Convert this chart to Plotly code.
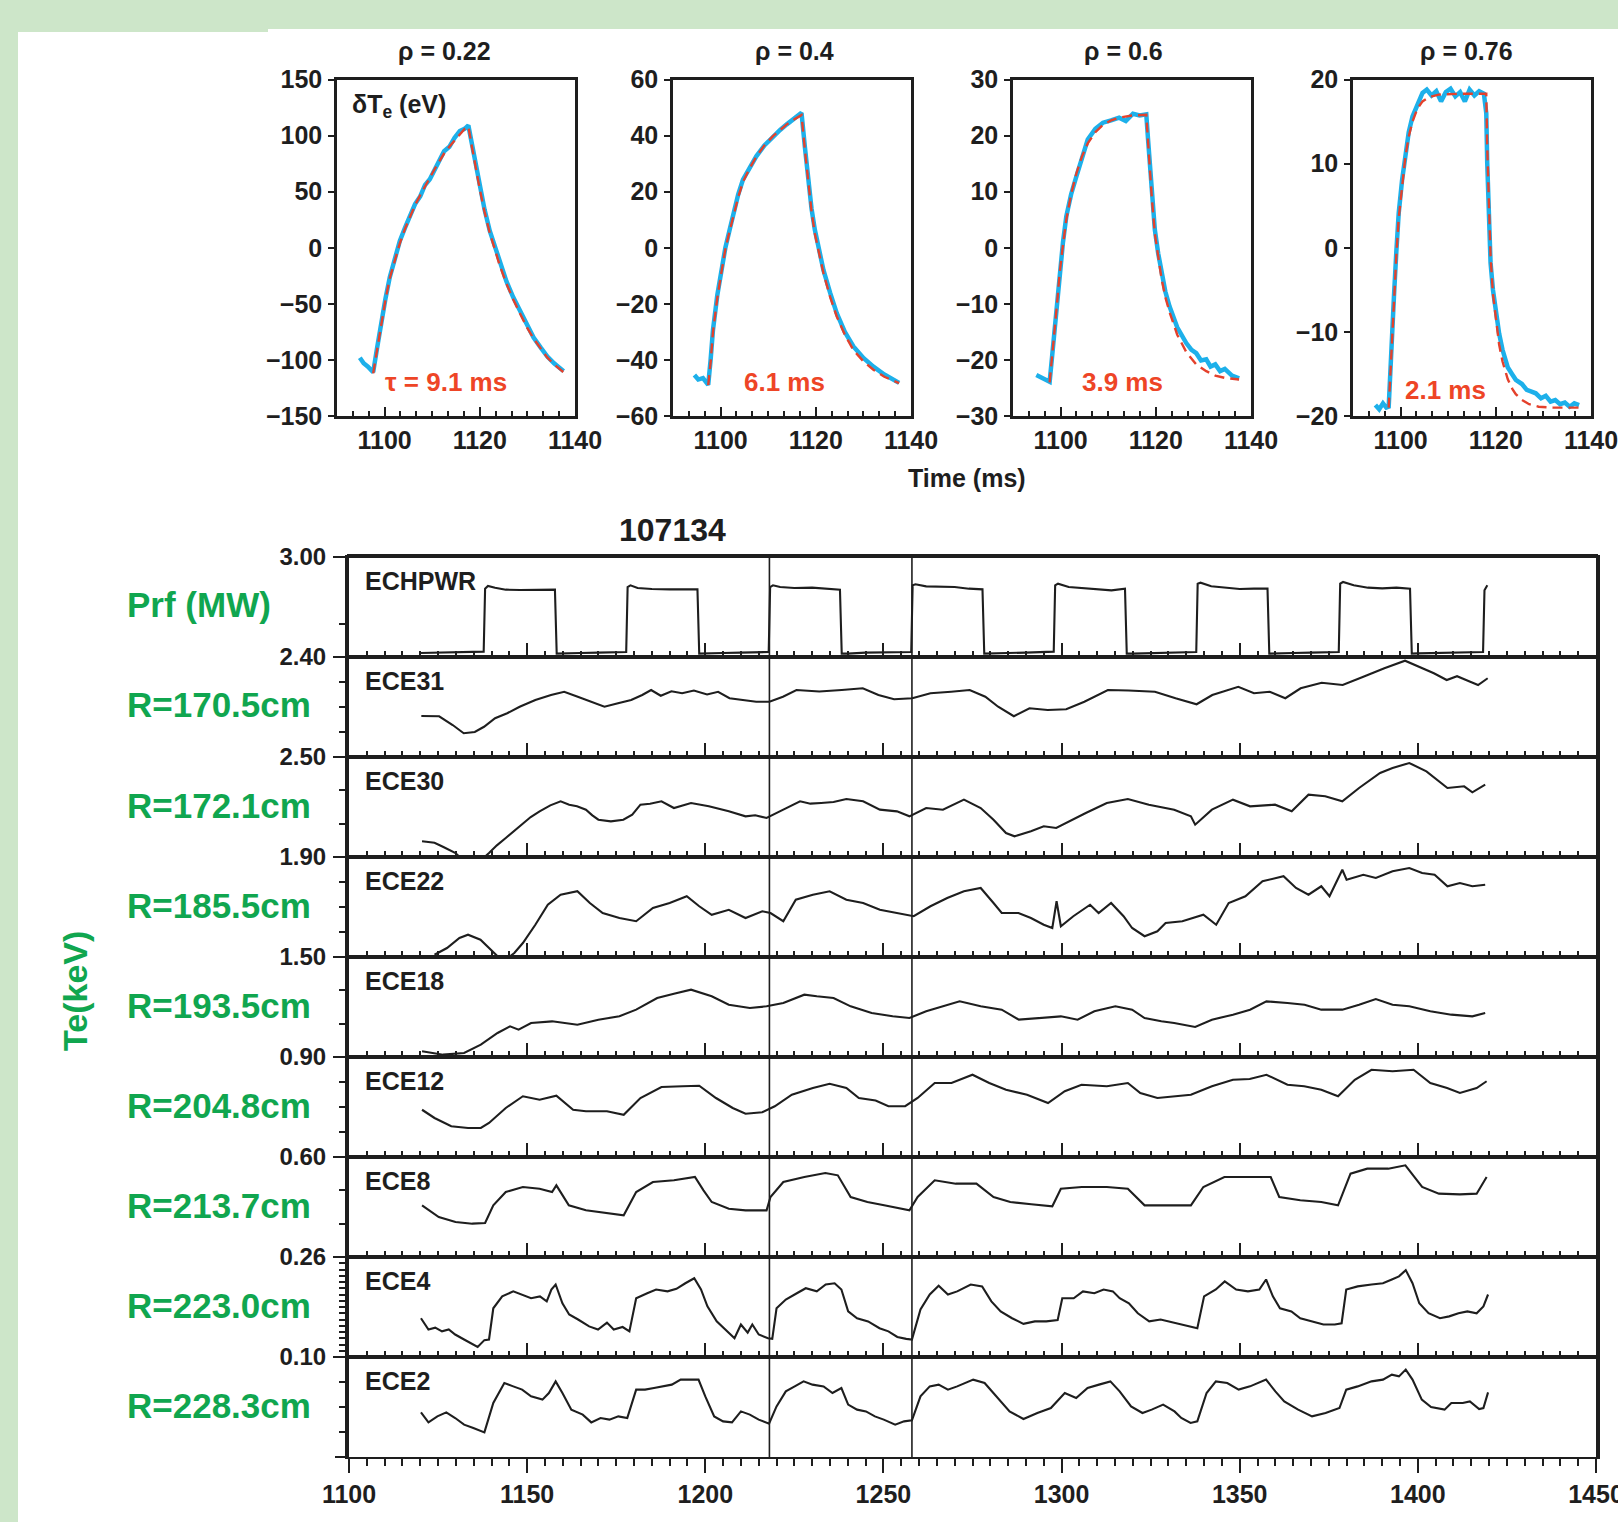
import plotly.graph_objects as go

W, H = 1618, 1522

# ---------------- small panels: delta Te (eV) vs time (ms) ----------------
rho_titles = ["ρ = 0.22", "ρ = 0.4", "ρ = 0.6", "ρ = 0.76"]
tau_labels = ["τ = 9.1 ms", "6.1 ms", "3.9 ms", "2.1 ms"]
small_yranges = [[-150, 150], [-60, 60], [-30, 30], [-20, 20]]
small_ytick_step = [50, 20, 10, 10]
small_xticks = [1100, 1120, 1140]

meas_1 = [(1094.8, -98), (1095.6, -103), (1096.5, -106), (1097.6, -111), (1098.4, -90), (1099.3, -66),
          (1100.2, -45), (1101.1, -26), (1102.1, -10), (1103.2, 6), (1104.3, 18), (1105.4, 29), (1106.4, 39),
          (1107.5, 46), (1108.5, 56), (1109.5, 61), (1110.5, 70), (1111.5, 77), (1112.5, 86), (1113.6, 90),
          (1114.7, 98), (1115.8, 104), (1116.8, 106), (1117.6, 109), (1118.3, 93), (1119.1, 73), (1120.0, 54),
          (1121.0, 34), (1122.1, 15), (1123.2, 0), (1124.2, -14), (1125.6, -30), (1127.0, -44), (1128.5, -57),
          (1129.9, -69), (1131.3, -80), (1132.8, -89), (1134.2, -97), (1135.6, -103), (1137.0, -108), (1137.6, -110)]
fit_1 = [(1097.6, -112), (1098.4, -91), (1099.3, -67), (1100.2, -46), (1101.1, -27), (1102.1, -11), (1103.2, 4),
         (1104.3, 17), (1105.4, 28), (1106.4, 38), (1107.5, 47), (1108.5, 55), (1109.5, 63), (1110.5, 70),
         (1111.5, 77), (1112.5, 84), (1113.6, 90), (1114.7, 96), (1115.8, 101), (1116.8, 106), (1117.6, 108),
         (1118.3, 91), (1119.1, 71), (1120.0, 52), (1121.0, 32), (1122.1, 13), (1123.2, -2), (1124.2, -16),
         (1125.6, -32), (1127.0, -46), (1128.5, -59), (1129.9, -71), (1131.3, -81), (1132.8, -90), (1134.2, -98),
         (1135.6, -104), (1137.0, -109), (1137.6, -111)]
meas_2 = [(1094.5, -45.4), (1095.3, -47), (1096.3, -46.5), (1097.4, -48.9), (1097.9, -40), (1098.4, -29.3),
          (1099.3, -17), (1100.2, -7.9), (1101.0, 0), (1101.9, 6.4), (1102.8, 13), (1103.7, 19), (1104.7, 24.3),
          (1106.0, 28.5), (1107.5, 32.6), (1109.2, 36.5), (1111.0, 39.8), (1112.5, 42), (1113.9, 44),
          (1115.5, 46), (1117.0, 48.1), (1117.7, 36), (1118.4, 24.3), (1119.1, 14), (1119.8, 6.4), (1120.7, -1),
          (1121.6, -7.9), (1123.0, -16), (1124.4, -23.3), (1126.1, -30), (1127.9, -35.2), (1130.0, -39.3),
          (1132.1, -42.4), (1134.4, -45.2), (1136.8, -47.7), (1137.5, -48.2)]
fit_2 = [(1097.4, -49), (1097.9, -41), (1098.4, -30), (1099.3, -18), (1100.2, -8.5), (1101.0, -0.5),
         (1101.9, 6), (1102.8, 12.5), (1103.7, 18), (1104.7, 23.5), (1106.0, 28), (1107.5, 32.5), (1109.2, 36.5),
         (1111.0, 39.8), (1112.5, 42), (1113.9, 44), (1115.5, 45.8), (1117.0, 47.3), (1117.7, 35), (1118.4, 23),
         (1119.1, 13), (1119.8, 5), (1120.7, -2.5), (1121.6, -9), (1123.0, -17.5), (1124.4, -24.5),
         (1126.1, -31), (1127.9, -36.5), (1130.0, -40.5), (1132.1, -43.5), (1134.4, -46), (1136.8, -47.8),
         (1137.5, -48.3)]
meas_3 = [(1094.9, -22.7), (1096.0, -23.2), (1097.0, -23.6), (1097.7, -23.9), (1098.2, -19.5), (1098.7, -14.6),
          (1099.3, -9), (1099.8, -3.9), (1100.5, 1), (1101.2, 5.6), (1102.2, 9.5), (1103.3, 12.7), (1104.5, 16.3),
          (1105.7, 19.3), (1107.3, 21.2), (1108.9, 22.3), (1110.6, 22.7), (1112.3, 23.2), (1113.7, 22.6),
          (1115.2, 23.9), (1116.6, 23.6), (1118.0, 23.8), (1118.4, 19), (1118.7, 15.1), (1119.2, 9),
          (1119.8, 3.2), (1120.5, -1), (1121.2, -4.5), (1122.0, -7.8), (1122.9, -10.5), (1124.5, -14.2),
          (1126.4, -17), (1127.5, -18.2), (1128.5, -18.8), (1129.5, -20.1), (1130.6, -19.9), (1131.5, -21.2),
          (1132.5, -20.8), (1133.5, -22.0), (1134.5, -21.6), (1136.0, -22.8), (1137.5, -23.3)]
fit_3 = [(1097.7, -24), (1098.2, -20), (1098.7, -15), (1099.3, -9.5), (1099.8, -4.5), (1100.5, 0.5),
         (1101.2, 5), (1102.2, 9.5), (1103.3, 13.2), (1104.5, 16.3), (1105.7, 18.6), (1107.3, 20.6),
         (1108.9, 21.9), (1110.6, 22.7), (1112.3, 23.2), (1115.2, 23.6), (1118.0, 23.7), (1118.4, 18.5),
         (1118.7, 14.5), (1119.2, 8.5), (1119.8, 2.5), (1120.5, -2), (1121.2, -5.5), (1122.0, -8.8),
         (1122.9, -11.5), (1124.5, -15.5), (1126.4, -18.6), (1128.5, -20.8), (1130.6, -22.0), (1132.5, -22.8),
         (1134.5, -23.2), (1137.5, -23.5)]
meas_4 = [(1094.7, -18.7), (1095.5, -19.2), (1096.3, -18.5), (1097.0, -19.0), (1097.5, -18.9), (1098.0, -12),
          (1098.6, -5.8), (1099.1, -0.5), (1099.6, 4.1), (1100.3, 8), (1101.0, 11.3), (1101.7, 13.7),
          (1102.5, 15.6), (1103.5, 17), (1104.6, 18.4), (1105.5, 18.8), (1106.5, 18.1), (1107.5, 18.6),
          (1108.5, 17.4), (1109.5, 18.5), (1110.5, 18.9), (1111.5, 18.0), (1112.5, 18.5), (1113.5, 17.4),
          (1114.5, 18.8), (1115.5, 18.1), (1116.5, 18.6), (1117.5, 18.3), (1118.0, 16), (1118.2, 10.1),
          (1118.5, 4), (1118.9, -1.8), (1119.4, -5), (1120.0, -7.8), (1120.7, -10.2), (1121.4, -12.1),
          (1122.5, -14.2), (1123.5, -15.1), (1124.2, -15.7), (1125.5, -16.2), (1126.5, -16.9), (1127.5, -17.1),
          (1128.4, -17.3), (1129.5, -17.9), (1130.5, -17.6), (1131.5, -18.3), (1132.5, -18.1), (1133.5, -18.6),
          (1134.5, -18.4), (1135.5, -18.9), (1136.5, -18.5), (1137.5, -18.7)]
fit_4 = [(1097.5, -19), (1098.0, -13), (1098.6, -6), (1099.1, -1), (1099.6, 3.5), (1100.3, 7.5), (1101.0, 10.8),
         (1101.7, 13.2), (1102.5, 15), (1103.5, 16.5), (1104.6, 17.4), (1106.0, 17.9), (1108.0, 18.2),
         (1112.0, 18.3), (1118.0, 18.3), (1118.2, 12), (1118.5, 5), (1118.9, -1), (1119.4, -5.5), (1120.0, -8.5),
         (1120.7, -11.5), (1121.4, -13.5), (1122.5, -15.6), (1123.5, -16.8), (1124.2, -17.4), (1125.5, -18.1),
         (1127.0, -18.6), (1129.0, -18.9), (1132.0, -19.0), (1137.5, -19.0)]

measured = [meas_1, meas_2, meas_3, meas_4]
fits = [fit_1, fit_2, fit_3, fit_4]

# ---------------- stacked ECE panels (shot 107134) ----------------
shot = "107134"
channel_names = ["ECHPWR", "ECE31", "ECE30", "ECE22", "ECE18", "ECE12", "ECE8", "ECE4", "ECE2"]
radius_labels = ["Prf (MW)", "R=170.5cm", "R=172.1cm", "R=185.5cm", "R=193.5cm",
                 "R=204.8cm", "R=213.7cm", "R=223.0cm", "R=228.3cm"]
top_labels = ["3.00", "2.40", "2.50", "1.90", "1.50", "0.90", "0.60", "0.26", "0.10"]
panel_ranges = [[0, 3.0], [2.0, 2.4], [1.9, 2.5], [1.5, 1.9], [0.9, 1.5], [0.5, 0.9], [0.3, 0.6], [0.10, 0.26], [0.02, 0.10]]
panel_minor = [[1.0], [2.1, 2.2, 2.3], [2.1, 2.3], [1.6, 1.7, 1.8], [1.1, 1.3], [0.6, 0.7, 0.8], [0.4, 0.5],
               [0.11, 0.12, 0.13, 0.14, 0.15, 0.16, 0.17, 0.18, 0.19, 0.20, 0.21, 0.22, 0.23, 0.24, 0.25],
               [0.04, 0.06, 0.08]]
switch_times = [1218, 1258]

echpwr = [(1120, 0.12), (1125, 0.13), (1130, 0.14), (1135, 0.15), (1137.8, 0.16), (1138.2, 2.05), (1139, 2.13),
          (1141, 2.08), (1144, 2.02), (1148, 2.01), (1152, 2.02), (1156, 2.03), (1157.8, 2.02), (1158.3, 0.1),
          (1160, 0.1), (1165, 0.12), (1170, 0.13), (1175, 0.14), (1177.8, 0.15), (1178.2, 2.1), (1179, 2.15),
          (1181, 2.07), (1185, 2.04), (1190, 2.03), (1195, 2.04), (1197.8, 2.03), (1198.3, 0.1), (1200, 0.1),
          (1205, 0.12), (1210, 0.13), (1215, 0.14), (1217.8, 0.15), (1218.2, 2.1), (1219, 2.15), (1221, 2.1),
          (1225, 2.07), (1230, 2.08), (1235, 2.03), (1237.8, 2.02), (1238.3, 0.1), (1240, 0.1), (1245, 0.13),
          (1250, 0.14), (1255, 0.15), (1257.8, 0.15), (1258.2, 2.15), (1259, 2.18), (1262, 2.12), (1266, 2.1),
          (1270, 2.1), (1274, 2.05), (1277.8, 2.03), (1278.3, 0.1), (1280, 0.1), (1285, 0.12), (1290, 0.13),
          (1295, 0.14), (1297.8, 0.16), (1298.2, 2.15), (1299, 2.2), (1302, 2.1), (1306, 2.06), (1310, 2.02),
          (1314, 2.0), (1317.8, 2.05), (1318.3, 0.1), (1320, 0.1), (1325, 0.12), (1330, 0.13), (1335, 0.14),
          (1337.8, 0.15), (1338.2, 2.2), (1339, 2.23), (1342, 2.12), (1346, 2.08), (1350, 2.04), (1354, 2.05),
          (1357.8, 2.05), (1358.3, 0.1), (1360, 0.1), (1365, 0.12), (1370, 0.13), (1375, 0.14), (1377.8, 0.15),
          (1378.2, 2.2), (1379, 2.25), (1382, 2.15), (1386, 2.08), (1390, 2.06), (1394, 2.08), (1397.8, 2.05),
          (1398.3, 0.1), (1400, 0.11), (1405, 0.12), (1410, 0.13), (1415, 0.14), (1418.3, 0.15), (1418.7, 2.0),
          (1419.5, 2.15)]
ece31 = [(1120.3, 2.164), (1125.3, 2.163), (1129.1, 2.128), (1132.2, 2.095), (1135.3, 2.100), (1137.9, 2.121),
         (1141.0, 2.155), (1144.4, 2.175), (1147.9, 2.201), (1152.3, 2.228), (1156.7, 2.248), (1160.4, 2.261),
         (1164.2, 2.241), (1168.0, 2.221), (1171.7, 2.201), (1175.5, 2.215), (1179.2, 2.228), (1182.3, 2.248),
         (1184.8, 2.268), (1187.5, 2.245), (1190.5, 2.263), (1193.5, 2.255), (1196.8, 2.266), (1200.5, 2.250),
         (1203.6, 2.261), (1206.8, 2.235), (1210.5, 2.228), (1214.3, 2.221), (1218.0, 2.221), (1221.8, 2.241),
         (1225.6, 2.268), (1232.0, 2.262), (1238.3, 2.268), (1244.2, 2.275), (1248.6, 2.248), (1253.0, 2.231),
         (1258.1, 2.235), (1263.2, 2.255), (1269.0, 2.261), (1274.2, 2.268), (1278.6, 2.241), (1282.2, 2.201),
         (1286.6, 2.163), (1291.0, 2.195), (1296.1, 2.188), (1301.3, 2.191), (1306.4, 2.221), (1313.0, 2.268),
         (1318.8, 2.266), (1326.2, 2.261), (1332.0, 2.235), (1337.9, 2.211), (1342.3, 2.248), (1349.6, 2.281),
         (1354.0, 2.255), (1358.4, 2.261), (1362.8, 2.235), (1367.1, 2.275), (1373.0, 2.297), (1378.9, 2.288),
         (1384.7, 2.321), (1390.6, 2.355), (1396.4, 2.385), (1400.1, 2.361), (1404.5, 2.335), (1408.1, 2.308),
         (1411.0, 2.323), (1414.7, 2.301), (1416.9, 2.288), (1419.6, 2.315)]
ece30 = [(1120.5, 1.994), (1124.0, 1.985), (1126.5, 1.960), (1129.9, 1.924), (1132.0, 1.88), (1136.0, 1.86),
         (1139.3, 1.924), (1141.5, 1.97), (1144.0, 2.014), (1146.5, 2.06), (1148.8, 2.104), (1151.0, 2.14),
         (1153.5, 2.174), (1156.5, 2.21), (1159.4, 2.234), (1161.8, 2.214), (1164.0, 2.204), (1166.5, 2.184),
         (1168.3, 2.15), (1170.0, 2.124), (1173.5, 2.114), (1177.0, 2.124), (1179.5, 2.154), (1181.8, 2.214),
         (1184.5, 2.22), (1187.7, 2.234), (1191.2, 2.194), (1193.5, 2.21), (1196.0, 2.224), (1201.0, 2.204),
         (1206.6, 2.174), (1211.3, 2.144), (1214.0, 2.15), (1217.2, 2.134), (1219.5, 2.16), (1221.9, 2.184),
         (1226.6, 2.234), (1229.5, 2.22), (1232.5, 2.224), (1236.0, 2.23), (1239.6, 2.248), (1244.3, 2.234),
         (1249.0, 2.184), (1253.8, 2.174), (1257.3, 2.144), (1262.0, 2.194), (1266.7, 2.184), (1272.6, 2.244),
         (1277.3, 2.194), (1280.9, 2.124), (1284.4, 2.044), (1286.8, 2.024), (1291.4, 2.054), (1295.0, 2.084),
         (1298.5, 2.074), (1302.1, 2.114), (1306.8, 2.164), (1312.7, 2.224), (1318.6, 2.248), (1324.5, 2.214),
         (1331.6, 2.184), (1336.3, 2.144), (1337.5, 2.094), (1342.2, 2.184), (1348.1, 2.244), (1352.9, 2.204),
         (1359.9, 2.214), (1364.6, 2.174), (1369.3, 2.274), (1374.0, 2.264), (1378.8, 2.234), (1383.5, 2.314),
         (1389.4, 2.404), (1392.9, 2.434), (1397.6, 2.464), (1402.4, 2.414), (1405.9, 2.354), (1408.3, 2.314),
         (1413.0, 2.324), (1415.3, 2.288), (1418.9, 2.334)]
ece22 = [(1124.0, 1.509), (1127.5, 1.536), (1131.0, 1.576), (1133.4, 1.589), (1136.9, 1.569), (1139.3, 1.536),
         (1141.7, 1.503), (1144.0, 1.49), (1146.4, 1.516), (1148.8, 1.556), (1152.3, 1.629), (1155.8, 1.709),
         (1159.4, 1.749), (1164.1, 1.763), (1167.6, 1.716), (1171.2, 1.676), (1175.9, 1.656), (1180.6, 1.643),
         (1185.3, 1.696), (1190.0, 1.716), (1194.8, 1.743), (1198.3, 1.703), (1201.8, 1.669), (1206.6, 1.689),
         (1211.3, 1.656), (1216.0, 1.683), (1218.3, 1.676), (1221.9, 1.643), (1225.4, 1.729), (1230.2, 1.749),
         (1234.9, 1.763), (1239.6, 1.729), (1244.3, 1.716), (1249.0, 1.689), (1253.8, 1.676), (1258.5, 1.663),
         (1263.2, 1.703), (1267.9, 1.736), (1272.6, 1.763), (1277.3, 1.776), (1280.9, 1.716), (1283.2, 1.676),
         (1287.9, 1.676), (1291.4, 1.656), (1295.0, 1.629), (1297.4, 1.616), (1298.6, 1.723), (1299.8, 1.623),
         (1303.3, 1.663), (1308.0, 1.709), (1310.4, 1.676), (1313.9, 1.716), (1317.4, 1.663), (1319.8, 1.616),
         (1323.3, 1.583), (1326.9, 1.603), (1329.2, 1.636), (1333.9, 1.643), (1339.8, 1.669), (1343.4, 1.629),
         (1346.9, 1.716), (1351.6, 1.743), (1356.4, 1.803), (1362.3, 1.823), (1365.8, 1.776), (1369.3, 1.749),
         (1372.9, 1.783), (1375.2, 1.743), (1378.8, 1.849), (1380.0, 1.809), (1384.7, 1.829), (1388.2, 1.816),
         (1392.9, 1.843), (1397.6, 1.856), (1401.2, 1.836), (1404.7, 1.829), (1408.3, 1.783), (1411.8, 1.796),
         (1415.3, 1.783), (1418.9, 1.789)]
ece18 = [(1120.5, 0.934), (1126.4, 0.914), (1132.3, 0.924), (1137.0, 0.974), (1141.7, 1.044), (1145.2, 1.084),
         (1147.6, 1.064), (1151.1, 1.104), (1157.0, 1.114), (1164.1, 1.094), (1170.0, 1.124), (1175.9, 1.144),
         (1180.6, 1.184), (1186.5, 1.254), (1191.2, 1.280), (1196.0, 1.304), (1201.8, 1.264), (1206.6, 1.214),
         (1212.5, 1.194), (1217.2, 1.204), (1221.9, 1.224), (1227.8, 1.274), (1231.3, 1.264), (1236.0, 1.254),
         (1240.8, 1.204), (1246.7, 1.164), (1252.6, 1.144), (1257.3, 1.134), (1262.0, 1.174), (1266.7, 1.204),
         (1271.4, 1.234), (1277.3, 1.204), (1283.2, 1.184), (1288.0, 1.124), (1293.9, 1.134), (1299.8, 1.144),
         (1304.5, 1.124), (1309.2, 1.174), (1315.1, 1.204), (1319.8, 1.184), (1323.3, 1.134), (1328.0, 1.114),
         (1331.6, 1.104), (1337.5, 1.080), (1342.2, 1.124), (1348.1, 1.154), (1352.9, 1.184), (1357.5, 1.234),
         (1363.4, 1.224), (1368.2, 1.214), (1372.9, 1.184), (1378.8, 1.184), (1383.5, 1.214), (1388.2, 1.248),
         (1392.9, 1.214), (1397.6, 1.204), (1403.5, 1.174), (1409.4, 1.154), (1415.3, 1.144), (1418.9, 1.164)]
ece12 = [(1120.5, 0.689), (1124.0, 0.656), (1128.7, 0.623), (1133.4, 0.616), (1137.0, 0.616), (1139.3, 0.636),
         (1144.0, 0.696), (1148.8, 0.743), (1153.5, 0.729), (1158.2, 0.745), (1162.9, 0.689), (1166.5, 0.683),
         (1172.4, 0.683), (1177.1, 0.669), (1181.8, 0.736), (1187.7, 0.780), (1193.6, 0.783), (1198.3, 0.785),
         (1203.0, 0.736), (1207.7, 0.696), (1211.3, 0.673), (1216.0, 0.679), (1219.5, 0.703), (1224.3, 0.749),
         (1230.2, 0.776), (1234.9, 0.793), (1239.6, 0.776), (1243.1, 0.736), (1247.8, 0.726), (1251.4, 0.703),
         (1256.1, 0.703), (1259.6, 0.736), (1264.4, 0.796), (1269.1, 0.796), (1275.0, 0.829), (1279.7, 0.796),
         (1284.4, 0.769), (1290.3, 0.749), (1296.2, 0.716), (1300.9, 0.763), (1305.6, 0.789), (1312.7, 0.783),
         (1318.6, 0.796), (1322.1, 0.756), (1326.9, 0.736), (1331.6, 0.743), (1336.3, 0.749), (1342.2, 0.783),
         (1348.1, 0.809), (1352.8, 0.812), (1357.5, 0.829), (1363.4, 0.789), (1368.1, 0.783), (1372.9, 0.769),
         (1377.6, 0.743), (1382.3, 0.809), (1387.0, 0.849), (1392.9, 0.843), (1398.8, 0.849), (1403.5, 0.796),
         (1408.2, 0.776), (1411.8, 0.756), (1416.5, 0.776), (1419.3, 0.803)]
ece8 = [(1120.5, 0.455), (1125.2, 0.420), (1129.9, 0.405), (1134.6, 0.400), (1138.2, 0.402), (1140.5, 0.455),
        (1144.0, 0.495), (1148.8, 0.510), (1153.5, 0.505), (1157.0, 0.495), (1158.2, 0.515), (1161.7, 0.455),
        (1166.5, 0.440), (1172.4, 0.432), (1177.1, 0.425), (1180.6, 0.495), (1185.3, 0.525), (1191.2, 0.530),
        (1197.1, 0.540), (1199.5, 0.500), (1201.8, 0.465), (1206.6, 0.445), (1211.3, 0.440), (1217.2, 0.440),
        (1218.3, 0.480), (1221.9, 0.525), (1227.8, 0.540), (1233.7, 0.552), (1237.2, 0.545), (1240.8, 0.480),
        (1245.5, 0.465), (1250.2, 0.455), (1257.3, 0.440), (1259.6, 0.480), (1264.4, 0.530), (1270.3, 0.520),
        (1276.1, 0.520), (1280.9, 0.480), (1285.6, 0.465), (1291.5, 0.458), (1297.4, 0.452), (1299.8, 0.505),
        (1305.7, 0.510), (1312.7, 0.510), (1318.6, 0.505), (1323.3, 0.455), (1329.2, 0.455), (1336.3, 0.455),
        (1339.8, 0.510), (1345.7, 0.540), (1352.8, 0.540), (1358.7, 0.540), (1361.1, 0.480), (1367.0, 0.470),
        (1372.9, 0.465), (1377.6, 0.455), (1381.1, 0.550), (1385.8, 0.565), (1391.7, 0.565), (1396.5, 0.575),
        (1401.2, 0.510), (1405.9, 0.490), (1411.8, 0.488), (1416.5, 0.490), (1419.3, 0.540)]
ece4 = [(1120.2, 0.162), (1122.3, 0.144), (1124.2, 0.147), (1126.1, 0.141), (1128.0, 0.144), (1129.8, 0.136),
        (1132.3, 0.128), (1134.2, 0.122), (1136.1, 0.116), (1138.0, 0.127), (1139.3, 0.128), (1140.5, 0.178),
        (1143.0, 0.197), (1146.1, 0.205), (1148.6, 0.200), (1151.1, 0.194), (1153.6, 0.197), (1155.5, 0.189),
        (1156.8, 0.208), (1158.0, 0.216), (1159.9, 0.186), (1161.8, 0.168), (1164.3, 0.160), (1167.4, 0.149),
        (1169.9, 0.144), (1172.4, 0.155), (1174.3, 0.144), (1176.8, 0.148), (1178.7, 0.141), (1180.6, 0.194),
        (1183.7, 0.202), (1186.2, 0.208), (1189.4, 0.205), (1191.9, 0.209), (1194.4, 0.218), (1196.9, 0.226),
        (1198.8, 0.208), (1200.6, 0.181), (1203.2, 0.157), (1205.7, 0.144), (1208.2, 0.130), (1210.0, 0.152),
        (1211.9, 0.139), (1213.2, 0.152), (1215.0, 0.136), (1217.6, 0.130), (1218.8, 0.129), (1220.0, 0.178),
        (1222.6, 0.192), (1225.7, 0.202), (1228.2, 0.210), (1231.3, 0.205), (1233.8, 0.216), (1236.3, 0.218),
        (1238.2, 0.208), (1240.1, 0.173), (1242.6, 0.162), (1245.7, 0.157), (1248.9, 0.146), (1251.4, 0.141),
        (1253.9, 0.132), (1256.4, 0.129), (1258.0, 0.128), (1260.4, 0.176), (1263.0, 0.200), (1265.5, 0.214),
        (1268.1, 0.200), (1270.7, 0.205), (1274.5, 0.216), (1277.7, 0.213), (1280.3, 0.189), (1282.9, 0.173),
        (1286.1, 0.162), (1289.3, 0.153), (1292.5, 0.157), (1295.7, 0.157), (1298.9, 0.159), (1300.2, 0.194),
        (1303.4, 0.194), (1306.0, 0.205), (1309.2, 0.202), (1311.8, 0.208), (1314.4, 0.205), (1316.3, 0.194),
        (1318.9, 0.186), (1321.4, 0.170), (1324.6, 0.157), (1327.8, 0.160), (1331.7, 0.155), (1334.9, 0.150),
        (1338.1, 0.146), (1340.0, 0.197), (1343.3, 0.208), (1345.8, 0.221), (1349.0, 0.208), (1352.3, 0.205),
        (1355.5, 0.208), (1357.4, 0.224), (1359.3, 0.197), (1361.3, 0.178), (1364.5, 0.173), (1367.0, 0.162),
        (1370.3, 0.157), (1373.5, 0.152), (1376.7, 0.152), (1378.6, 0.154), (1379.9, 0.208), (1383.1, 0.213),
        (1387.0, 0.216), (1390.2, 0.218), (1392.7, 0.224), (1394.7, 0.229), (1396.6, 0.239), (1398.5, 0.218),
        (1400.4, 0.186), (1403.0, 0.170), (1406.2, 0.162), (1408.8, 0.165), (1411.4, 0.170), (1413.9, 0.173),
        (1416.5, 0.170), (1418.4, 0.181), (1419.7, 0.200)]
ece2 = [(1120.2, 0.0557), (1122.3, 0.0477), (1124.8, 0.0525), (1127.3, 0.0557), (1129.8, 0.0512), (1132.3, 0.0459),
        (1134.9, 0.0432), (1138.0, 0.0397), (1140.5, 0.0632), (1143.6, 0.0792), (1146.1, 0.0765), (1148.6, 0.0739),
        (1151.1, 0.0685), (1154.3, 0.0659), (1156.1, 0.0712), (1158.0, 0.0805), (1159.9, 0.0712), (1162.4, 0.0579),
        (1165.6, 0.0539), (1168.0, 0.0477), (1170.6, 0.0512), (1173.1, 0.0499), (1175.6, 0.0525), (1178.1, 0.0512),
        (1180.6, 0.0739), (1183.1, 0.0739), (1185.6, 0.0752), (1188.1, 0.0765), (1190.6, 0.0779), (1193.1, 0.0819),
        (1195.6, 0.0819), (1198.1, 0.0819), (1200.0, 0.0685), (1202.5, 0.0525), (1205.0, 0.0485), (1207.5, 0.0477),
        (1210.0, 0.0565), (1212.5, 0.0539), (1215.0, 0.0499), (1217.9, 0.0467), (1220.0, 0.0605), (1222.6, 0.0725),
        (1225.1, 0.0765), (1227.6, 0.0805), (1230.1, 0.0779), (1233.2, 0.0765), (1235.7, 0.0712), (1238.2, 0.0752),
        (1240.1, 0.0619), (1242.6, 0.0579), (1245.1, 0.0565), (1247.6, 0.0525), (1250.1, 0.0499), (1253.3, 0.0459),
        (1255.8, 0.0485), (1258.0, 0.0493), (1260.4, 0.0685), (1263.0, 0.0765), (1265.5, 0.0779), (1268.1, 0.0739),
        (1270.7, 0.0765), (1275.2, 0.0819), (1278.4, 0.0792), (1281.6, 0.0685), (1285.4, 0.0565), (1289.3, 0.0504),
        (1293.2, 0.0552), (1297.0, 0.0592), (1300.9, 0.0712), (1304.1, 0.0672), (1307.3, 0.0752), (1310.5, 0.0779),
        (1313.7, 0.0805), (1316.3, 0.0725), (1319.5, 0.0605), (1322.7, 0.0552), (1325.3, 0.0579), (1328.5, 0.0619),
        (1331.7, 0.0565), (1333.6, 0.0512), (1336.2, 0.0472), (1338.1, 0.0485), (1340.7, 0.0712), (1343.3, 0.0805),
        (1346.5, 0.0792), (1349.7, 0.0739), (1352.9, 0.0765), (1357.4, 0.0819), (1360.0, 0.0725), (1362.5, 0.0645),
        (1366.4, 0.0579), (1370.3, 0.0525), (1374.1, 0.0552), (1378.0, 0.0592), (1379.9, 0.0739), (1383.1, 0.0765),
        (1387.0, 0.0805), (1390.2, 0.0819), (1392.7, 0.0859), (1394.7, 0.0845), (1396.6, 0.0899), (1398.5, 0.0819),
        (1401.1, 0.0659), (1403.7, 0.0600), (1407.5, 0.0579), (1409.4, 0.0632), (1412.6, 0.0632), (1414.6, 0.0645),
        (1417.2, 0.0584), (1418.4, 0.0592), (1419.7, 0.0717)]

traces_ece = [echpwr, ece31, ece30, ece22, ece18, ece12, ece8, ece4, ece2]

# ---------------- styling ----------------
FONT = "Liberation Sans, Arial, Helvetica, sans-serif"
INK = "#1e1e1e"
GREEN = "#10A64F"
RED_TXT = "#EE4526"
RED_LINE = "#E4412C"
BLUE = "#1DB0EA"
BG_GREEN = "#CDE6C9"


def fx(p):
    return p / W


def fy(p):
    return 1 - p / H


def tf(size=24, color=INK):
    return dict(family=FONT, size=size, color=color, weight="bold")


fig = go.Figure()
layout = dict(
    template="none",
    width=W, height=H, autosize=False,
    margin=dict(l=0, r=0, t=0, b=0, pad=0, autoexpand=False),
    paper_bgcolor=BG_GREEN, plot_bgcolor="rgba(0,0,0,0)",
    showlegend=False,
    font=dict(family=FONT, size=24, color=INK, weight="bold"),
)

# small panel geometry (pixels)
small_left = [337, 673, 1013, 1353]
small_w = 238
small_top, small_bottom = 79.5, 416
title_cx = [444, 794, 1123, 1466]
tau_x = [383, 742, 1080, 1403]
tau_y = [382, 382, 382, 390]

for i in range(4):
    n = i + 1
    xa, ya = f"x{n}", f"y{n}"
    mt, mv = zip(*measured[i])
    ft, fv = zip(*fits[i])
    fig.add_trace(go.Scatter(x=mt, y=mv, mode="lines", xaxis=xa, yaxis=ya,
                             line=dict(color=BLUE, width=4.5)))
    fig.add_trace(go.Scatter(x=ft, y=fv, mode="lines", xaxis=xa, yaxis=ya,
                             line=dict(color=RED_LINE, width=2.4, dash="10px,6px")))
    lo, hi = small_yranges[i]
    step = small_ytick_step[i]
    yt = list(range(lo, hi + 1, step))
    layout[f"xaxis{n}"] = dict(
        domain=[fx(small_left[i]), fx(small_left[i] + small_w)], anchor=ya, automargin=False,
        range=[1090, 1140], tickmode="array", tickvals=small_xticks,
        ticks="inside", ticklen=9, tickwidth=2, tickcolor=INK,
        minor=dict(ticks="inside", ticklen=5, tickwidth=1.5, tickcolor=INK, tick0=1100, dtick=20 / 6),
        showline=True, mirror=True, linewidth=2.5, linecolor=INK, ticklabeloverflow="allow",
        showgrid=False, zeroline=False, tickfont=tf(25), ticklabelstandoff=0,
    )
    layout[f"yaxis{n}"] = dict(
        domain=[fy(small_bottom), fy(small_top)], anchor=xa, automargin=False,
        range=[lo, hi], tickmode="array", tickvals=yt,
        ticks="outside", ticklen=6, tickwidth=2, tickcolor=INK,
        showline=True, mirror=True, linewidth=2.5, linecolor=INK,
        showgrid=False, zeroline=False, tickfont=tf(25), ticklabelstandoff=1,
    )

# big stacked panels
big_left, big_right = 349, 1596
row_top0, row_h = 557, 100
n_rows = len(channel_names)
bottom_axis = f"x{4 + n_rows}"
for j in range(n_rows):
    n = 5 + j
    xa, ya = f"x{n}", f"y{n}"
    t, v = zip(*traces_ece[j])
    fig.add_trace(go.Scatter(x=t, y=v, mode="lines", xaxis=xa, yaxis=ya,
                             line=dict(color=INK, width=2.1)))
    top = row_top0 + j * row_h
    last = (j == n_rows - 1)
    lo, hi = panel_ranges[j]
    layout[f"xaxis{n}"] = dict(
        domain=[fx(big_left), fx(big_right)], anchor=ya, automargin=False,
        range=[1100, 1450], tickmode="linear", tick0=1100, dtick=50,
        ticks="outside" if last else "inside", ticklen=14, tickwidth=2, tickcolor=INK,
        minor=dict(ticks="outside" if last else "inside", ticklen=7 if last else 6, tickwidth=1.6,
                   tickcolor=INK, tick0=1100, dtick=5),
        showticklabels=last, tickfont=tf(25), ticklabelstandoff=0, ticklabeloverflow="allow",
        showline=True, mirror=True, linewidth=2, linecolor=INK,
        showgrid=False, zeroline=False,
    )
    layout[f"yaxis{n}"] = dict(
        domain=[fy(top + row_h), fy(top)], anchor=xa, automargin=False,
        range=[lo, hi], tickmode="array", tickvals=[hi], ticktext=[top_labels[j]],
        ticks="outside", ticklen=12, tickwidth=2, tickcolor=INK,
        minor=dict(tickmode="array", tickvals=panel_minor[j], ticks="outside", ticklen=6,
                   tickwidth=1.6, tickcolor=INK),
        showline=True, mirror=True, linewidth=4, linecolor=INK,
        showgrid=False, zeroline=False, tickfont=tf(24), ticklabelstandoff=2,
    )

bottom_y = row_top0 + n_rows * row_h
shapes = [
    dict(type="rect", xref="paper", yref="paper", x0=fx(18), x1=1, y0=0, y1=fy(32),
         fillcolor="white", line=dict(width=0), layer="below"),
    dict(type="rect", xref="paper", yref="paper", x0=fx(268), x1=1, y0=fy(33), y1=fy(29),
         fillcolor="white", line=dict(width=0), layer="below"),
    # heavy top frame of the stacked plot
    dict(type="line", xref="paper", yref="paper", x0=fx(big_left - 2), x1=fx(big_right + 2),
         y0=fy(row_top0 - 1), y1=fy(row_top0 - 1), line=dict(color=INK, width=4)),
    # bottom-left axis tick of the last panel
    dict(type="line", xref="paper", yref="paper", x0=fx(big_left - 14), x1=fx(big_left),
         y0=fy(bottom_y), y1=fy(bottom_y), line=dict(color=INK, width=2)),
]
for ts in switch_times:
    shapes.append(dict(type="line", xref=bottom_axis, yref="paper", x0=ts, x1=ts,
                       y0=fy(bottom_y), y1=fy(row_top0),
                       line=dict(color=INK, width=1.6)))

annotations = []


def ann(text, x, y, size, color=INK, xanchor="center", yanchor="middle", angle=0):
    annotations.append(dict(text=text, x=fx(x), y=fy(y), xref="paper", yref="paper",
                            showarrow=False, xanchor=xanchor, yanchor=yanchor, textangle=angle,
                            font=tf(size, color)))


for i in range(4):
    ann(rho_titles[i], title_cx[i], 51, 25)
    ann(tau_labels[i], tau_x[i], tau_y[i], 26, RED_TXT, xanchor="left")
ann("δT<sub>e</sub> (eV)", 350, 106, 25, xanchor="left")
ann("Time (ms)", 967, 478, 25)
ann(shot, 672, 530, 32)
for j in range(n_rows):
    top = row_top0 + j * row_h
    ann(channel_names[j], 363, top + 24, 25, xanchor="left")
    ann(radius_labels[j], 125, top + 48, 35, GREEN, xanchor="left")
ann("Te(keV)", 75, 991, 34, GREEN, angle=-90)
ann("Time (ms)", 972, 1517, 25, yanchor="top")

layout["shapes"] = shapes
layout["annotations"] = annotations
fig.update_layout(**layout)
fig.write_html("out.html")
